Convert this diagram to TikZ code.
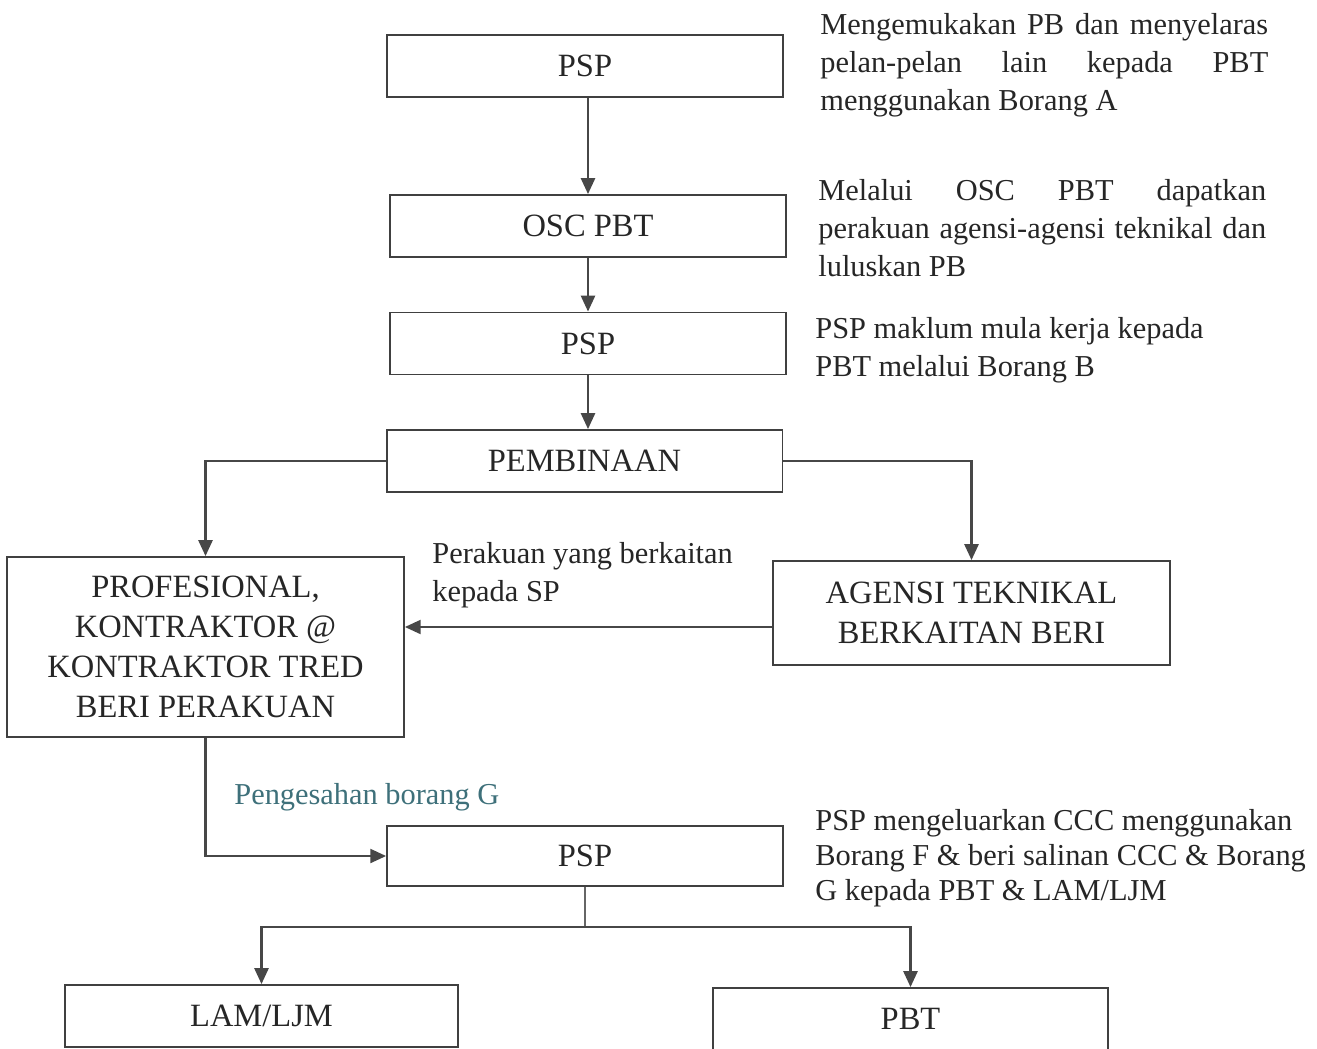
\documentclass[tikz,border=0pt]{standalone}
\usepackage{fontspec}
\setmainfont{Liberation Serif}
\usetikzlibrary{arrows.meta}

\definecolor{tealnote}{RGB}{62,112,122}
\newcommand{\jline}[1]{\makebox[8.96cm][s]{#1}}

\tikzset{
  box/.style={draw=black!75, line width=1.1pt, text=black!85, minimum width=7.92cm,
    minimum height=1.24cm, align=center, inner sep=0pt,
    font=\fontsize{18.5}{22.8}\selectfont},
  note/.style={anchor=north west, inner sep=0pt, text=black!85, align=left,
    font=\fontsize{17.3}{21.6}\selectfont},
  link/.style={draw=black!72, line width=1.2pt, -{Triangle[length=9pt,width=8pt]}},
  plain/.style={draw=black!60, line width=0.7pt}
}

\begin{document}
\begin{tikzpicture}[x=0.02cm,y=-0.02cm]
	\useasboundingbox (0,0) rectangle (1317,1048);
	% main column
	\node[box] (psptop) at (585,66) {PSP};
	\node[box] (osc) at (588,226) {OSC PBT};
	\node[box] (pspmid) at (588,343.5) {PSP};
	\node[box] (bina) at (584.5,461) {PEMBINAAN};
	% the two branches
	\node[box, minimum width=7.94cm, minimum height=3.6cm] (prof) at (205.5,647)
	  {PROFESIONAL,\\KONTRAKTOR @\\KONTRAKTOR TRED\\BERI PERAKUAN};
	\node[box, minimum width=7.94cm, minimum height=2.08cm] (agensi) at (971.5,613)
	  {AGENSI TEKNIKAL\\BERKAITAN BERI};
	% completion
	\node[box, minimum height=1.2cm] (pspbot) at (585,856) {PSP};
	\node[box, minimum width=7.86cm] (lam) at (261.5,1016) {LAM/LJM};
	\node[box, minimum width=7.9cm] (pbt) at (910.5,1019) {PBT};

	% side notes
	\node[note] (n1) at (820,13) {\jline{Mengemukakan PB dan menyelaras}\\
	  \jline{pelan-pelan lain kepada PBT}\\menggunakan Borang A};
	\node[note] (n2) at (818,179) {\jline{Melalui OSC PBT dapatkan}\\
	  \jline{perakuan agensi-agensi teknikal dan}\\luluskan PB};
	\node[note] (n3) at (815,317) {PSP maklum mula kerja kepada\\PBT melalui Borang B};
	\node[note] (n4) at (432,542) {Perakuan yang berkaitan\\kepada SP};
	\node[note, text=tealnote] (n5) at (234,783) {Pengesahan borang G};
	\node[note, font=\fontsize{17.3}{20}\selectfont] (n6) at (815,809)
	  {PSP mengeluarkan CCC menggunakan\\Borang F \& beri salinan CCC \& Borang\\G kepada PBT \& LAM/LJM};

	% connectors
	\draw[link] (psptop.south -| osc.north) -- (osc.north);
	\draw[link] (osc) -- (pspmid);
	\draw[link] (pspmid.south) -- (pspmid.south |- bina.north);
	\draw[link] (bina.west) -| (prof.north);
	\draw[link] (bina.east) -| (agensi.north);
	\coordinate (certin) at ([yshift=-0.28cm]agensi.west);
	\draw[link] (certin) -- (certin -| prof.east);
	\draw[link] (prof.south) |- (pspbot.west);
	% split to LAM/LJM and PBT
	\coordinate (split) at (585,927);
	\draw[plain] (pspbot.south) -- (split);
	\draw[link] (split) -| (lam.north);
	\draw[link] (split) -| (pbt.north);
\end{tikzpicture}
\end{document}
